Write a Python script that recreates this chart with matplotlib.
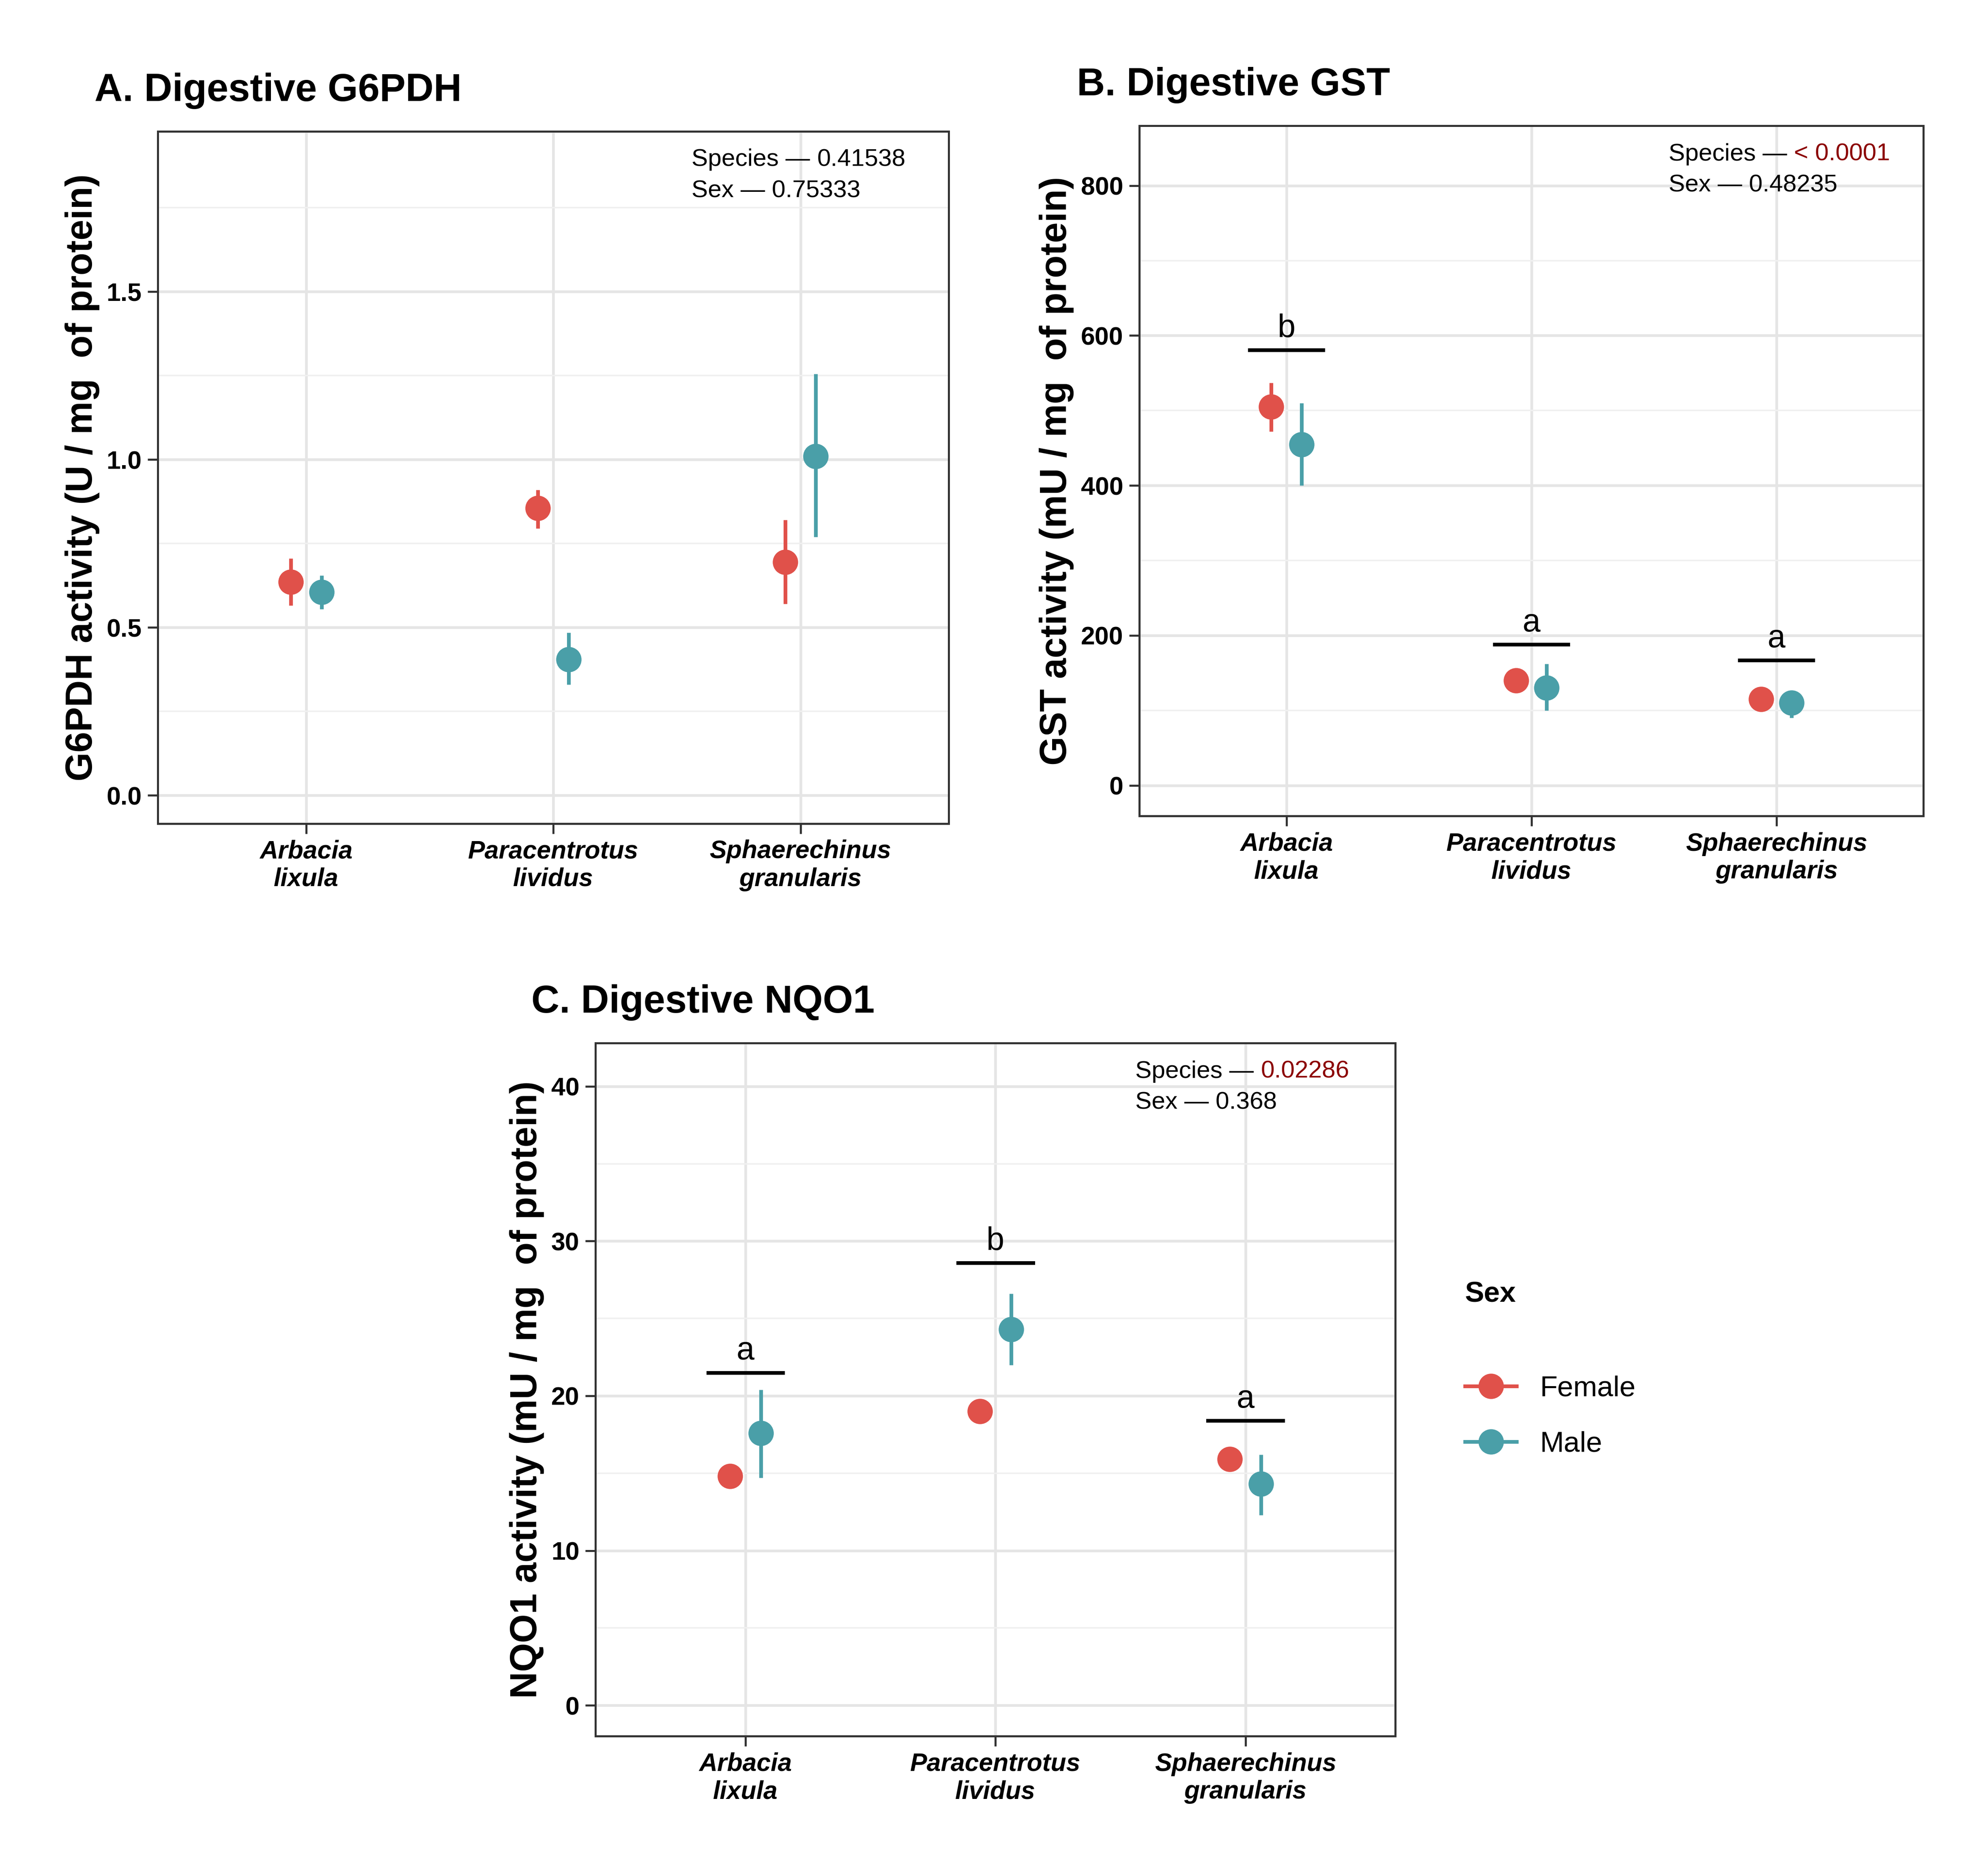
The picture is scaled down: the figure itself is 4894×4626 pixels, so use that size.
import numpy as np
import matplotlib
matplotlib.use("Agg")
import matplotlib.pyplot as plt
from matplotlib.lines import Line2D
from matplotlib.ticker import MultipleLocator

plt.rcParams['font.family'] = ['Liberation Sans', 'DejaVu Sans']

species = ["Arbacia\nlixula", "Paracentrotus\nlividus", "Sphaerechinus\ngranularis"]
female_col = "#E0514A"
male_col = "#4A9FA8"
sig_col = "#8B0000"

# panel A: G6PDH
g6_f = [0.635, 0.855, 0.695]
g6_f_lo = [0.565, 0.795, 0.570]
g6_f_hi = [0.705, 0.910, 0.820]
g6_m = [0.605, 0.405, 1.010]
g6_m_lo = [0.555, 0.330, 0.770]
g6_m_hi = [0.655, 0.485, 1.255]

# panel B: GST
gst_f = [505, 140, 115]
gst_f_lo = [472, 140, 115]
gst_f_hi = [537, 140, 115]
gst_m = [455, 130, 110]
gst_m_lo = [400, 100, 90]
gst_m_hi = [510, 162, 125]
gst_letters = ["b", "a", "a"]
gst_bar = [581, 188, 167]

# panel C: NQO1
nq_f = [14.8, 19.0, 15.9]
nq_f_lo = [14.8, 19.0, 15.9]
nq_f_hi = [14.8, 19.0, 15.9]
nq_m = [17.6, 24.3, 14.3]
nq_m_lo = [14.7, 22.0, 12.3]
nq_m_hi = [20.4, 26.6, 16.2]
nq_letters = ["a", "b", "a"]
nq_bar = [21.5, 28.6, 18.4]

fig = plt.figure(figsize=(4894/300, 4626/300), dpi=300)


def panel(rect, title, ylabel, f, flo, fhi, m, mlo, mhi, ylim, major, sp, sexp,
          sp_sig, letters=None, bars=None, lstep=0):
    ax = fig.add_axes(rect)
    x = np.arange(1, 4)
    off = 0.062
    for vals, lo, hi, c, d in [(f, flo, fhi, female_col, -off), (m, mlo, mhi, male_col, off)]:
        vals = np.array(vals)
        ax.errorbar(x + d, vals, yerr=[vals - np.array(lo), np.array(hi) - vals],
                    fmt='o', color=c, ms=14, elinewidth=2.2, capsize=0, zorder=3)
    if letters:
        for xi, l, b in zip(x, letters, bars):
            ax.plot([xi - 0.15, xi + 0.15], [b, b], color='black', lw=2.2, zorder=3)
            ax.text(xi, b + lstep, l, ha='center', va='bottom', fontsize=19)
    ax.set_xlim(0.4, 3.6)
    ax.set_ylim(*ylim)
    ax.set_xticks(x)
    ax.set_xticklabels(species, fontsize=15, fontweight='bold', style='italic')
    ax.yaxis.set_major_locator(MultipleLocator(major))
    ax.yaxis.set_minor_locator(MultipleLocator(major / 2))
    for lab in ax.get_yticklabels():
        lab.set_fontweight('bold')
        lab.set_fontsize(15)
    ax.grid(which='major', color='#E5E5E5', lw=1.6)
    ax.grid(which='minor', axis='y', color='#F0F0F0', lw=0.9)
    ax.set_axisbelow(True)
    ax.tick_params(which='minor', length=0)
    ax.tick_params(which='major', length=6, width=1.2, color='#333333')
    for s in ax.spines.values():
        s.set_color('#333333')
        s.set_linewidth(1.2)
    ax.set_ylabel(ylabel, fontsize=22, fontweight='bold')
    ax.set_title(title, fontsize=23, fontweight='bold', loc='left', x=-0.08, pad=18)
    t1 = ax.text(0.675, 0.975, "Species \u2014 ", transform=ax.transAxes, fontsize=14.5,
                 va='top', ha='left')
    ax.annotate(sp, xy=(1, 0), xycoords=t1, va='bottom', ha='left', fontsize=14.5,
                color=sig_col if sp_sig else 'black')
    ax.text(0.675, 0.93, "Sex \u2014 " + sexp, transform=ax.transAxes, fontsize=14.5,
            va='top', ha='left')
    return ax


panel([0.0795, 0.561, 0.3985, 0.369], "A. Digestive G6PDH",
      "G6PDH activity (U / mg  of protein)",
      g6_f, g6_f_lo, g6_f_hi, g6_m, g6_m_lo, g6_m_hi, (-0.084, 1.977), 0.5,
      "0.41538", "0.75333", False)
panel([0.574, 0.565, 0.395, 0.368], "B. Digestive GST",
      "GST activity (mU / mg  of protein)",
      gst_f, gst_f_lo, gst_f_hi, gst_m, gst_m_lo, gst_m_hi, (-41, 880), 200,
      "< 0.0001", "0.48235", True, gst_letters, gst_bar, 8)
panel([0.300, 0.0745, 0.403, 0.3695], "C. Digestive NQO1",
      "NQO1 activity (mU / mg  of protein)",
      nq_f, nq_f_lo, nq_f_hi, nq_m, nq_m_lo, nq_m_hi, (-2.0, 42.8), 10,
      "0.02286", "0.368", True, nq_letters, nq_bar, 0.4)

handles = [Line2D([], [], color=female_col, marker='o', ms=14, lw=2.2),
           Line2D([], [], color=male_col, marker='o', ms=14, lw=2.2)]
leg = fig.legend(handles, ["Female", "Male"], title="Sex", loc='center left',
                 bbox_to_anchor=(0.725, 0.27), frameon=False, fontsize=17,
                 title_fontproperties={'weight': 'bold', 'size': 17},
                 handlelength=1.8, labelspacing=1.0)
leg._legend_box.align = "left"
leg._legend_box.sep = 40

fig.savefig("out.png", dpi=300, facecolor='white')
